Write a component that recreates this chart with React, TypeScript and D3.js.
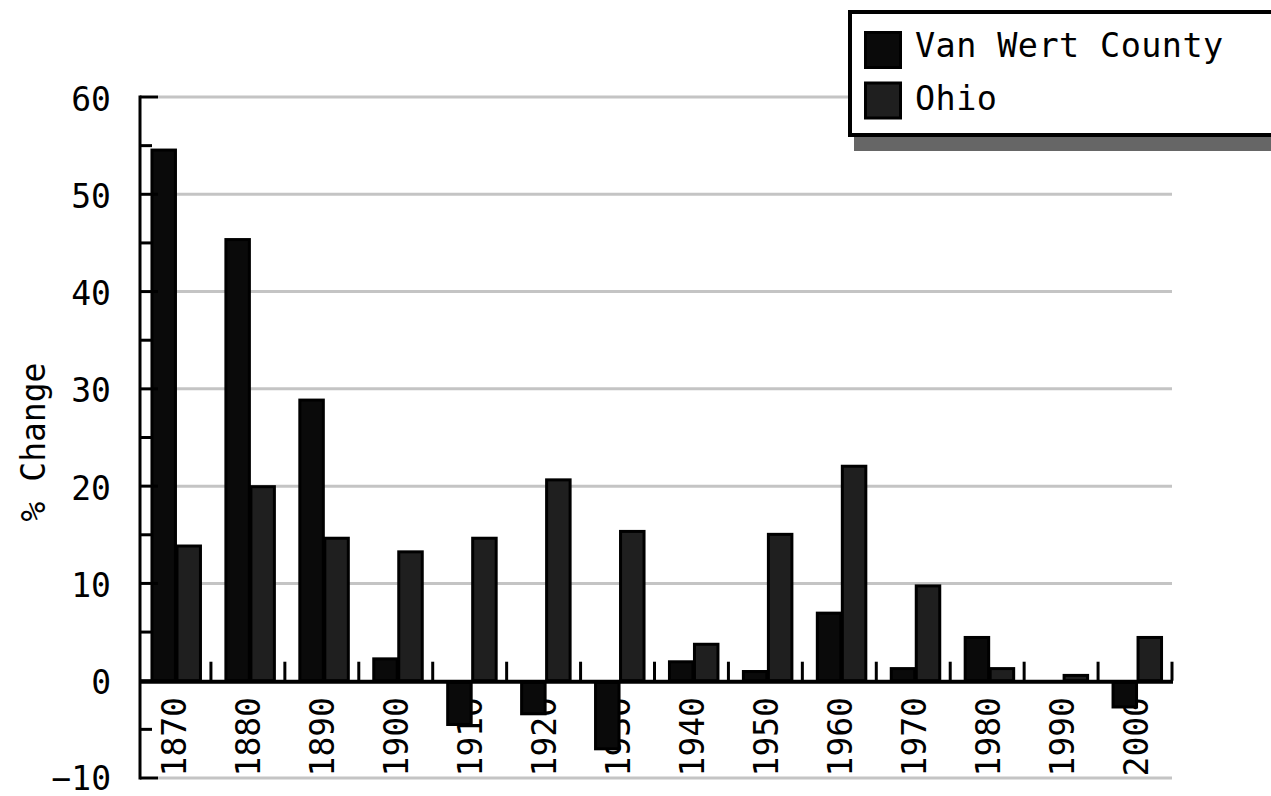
import React from "react";
import * as d3 from "d3";

const years = ["1870","1880","1890","1900","1910","1920","1930","1940","1950","1960","1970","1980","1990","2000"];
const vanWert = [54.7, 45.5, 29.0, 2.4, -4.5, -3.4, -7.0, 2.1, 1.1, 7.1, 1.4, 4.6, 0, -2.7];
const ohio = [14.0, 20.1, 14.8, 13.4, 14.8, 20.8, 15.5, 3.9, 15.2, 22.2, 9.9, 1.4, 0.7, 4.6];
const seriesNames = ["Van Wert County", "Ohio"];
const seriesColors = ["#0a0a0a", "#1f1f1f"];
const yMajorTicks = [-10, 0, 10, 20, 30, 40, 50, 60];
const yMinorTicks = [-5, 5, 15, 25, 35, 45, 55];

const FONT = "'DejaVu Sans Mono', 'Liberation Mono', monospace";

export default function App() {
  const W = 1271, H = 796;
  const axisX = 140;
  const plotRight = 1172;
  const y = d3.scaleLinear().domain([-10, 60]).range([778, 97]);
  const x = d3.scaleBand<string>().domain(years).range([137, 1172]).padding(0);
  const bw = x.bandwidth();
  const barW = 25;

  return (
    <svg width={W} height={H} style={{ position: "absolute", left: 0, top: 0, background: "#fff" }}
      fontFamily={FONT}>
      {/* gridlines */}
      {yMajorTicks.filter(t => t !== 0).map(t => (
        <line key={"g" + t} x1={158} x2={plotRight} y1={y(t)} y2={y(t)} stroke="#c4c4c4" strokeWidth={3} />
      ))}
      {/* x labels */}
      {years.map(yr => {
        const cx = (x(yr) as number) + bw / 2 + 1;
        return (
          <text key={"xl" + yr} transform={`translate(${cx},697) rotate(-90)`} textAnchor="end"
            dominantBaseline="central" fontSize={33} fill="#000">{yr}</text>
        );
      })}
      {/* bars */}
      {years.map((yr, i) => {
        const c = (x(yr) as number) + bw / 2 + 3;
        const vals = [vanWert[i], ohio[i]];
        return vals.map((v, j) => {
          if (v === 0) return null;
          const x0 = j === 0 ? c - barW : c;
          const top = Math.min(y(v), y(0));
          const h = Math.abs(y(v) - y(0));
          return (
            <rect key={yr + j} x={x0} y={top + 1.5} width={barW - 1.5} height={Math.max(h - 1.5, 0)}
              fill={seriesColors[j]} stroke="#000" strokeWidth={3} />
          );
        });
      })}
      {/* zero line */}
      <line x1={axisX} x2={plotRight + 1} y1={y(0) + 1} y2={y(0) + 1} stroke="#000" strokeWidth={4} />
      {/* category ticks */}
      {years.map(yr => {
        const bx = (x(yr) as number) + bw;
        return <line key={"ct" + yr} x1={bx} x2={bx} y1={y(0)} y2={y(0) - 19} stroke="#000" strokeWidth={3} />;
      })}
      {/* y axis */}
      <line x1={axisX} x2={axisX} y1={y(60) - 1.5} y2={y(-10) + 1.5} stroke="#000" strokeWidth={3} />
      {yMajorTicks.map(t => (
        <line key={"mt" + t} x1={axisX} x2={158} y1={y(t)} y2={y(t)} stroke="#000" strokeWidth={3} />
      ))}
      {yMinorTicks.map(t => (
        <line key={"nt" + t} x1={axisX} x2={152} y1={y(t)} y2={y(t)} stroke="#000" strokeWidth={3} />
      ))}
      {yMajorTicks.map(t => (
        <text key={"yl" + t} x={111} y={y(t) + (t < 0 ? 0 : 2)} textAnchor="end" dominantBaseline="central"
          fontSize={33} fill="#000">{t < 0 ? "\u2212" + Math.abs(t) : String(t)}</text>
      ))}
      {/* y title */}
      <text transform="translate(33,442) rotate(-90)" textAnchor="middle" dominantBaseline="central"
        fontSize={33} fill="#000">% Change</text>
      {/* legend */}
      <rect x={854} y={24} width={440} height={127} fill="#666" />
      <rect x={850} y={12} width={440} height={123} fill="#fff" stroke="#000" strokeWidth={4} />
      {seriesNames.map((n, i) => (
        <g key={n}>
          <rect x={865.5} y={32.5 + i * 50.5} width={35} height={35} fill={seriesColors[i]} stroke="#000" strokeWidth={3} />
          <text x={915} y={57 + i * 53} fontSize={33.5} letterSpacing={0.4} fill="#000">{n}</text>
        </g>
      ))}
    </svg>
  );
}
